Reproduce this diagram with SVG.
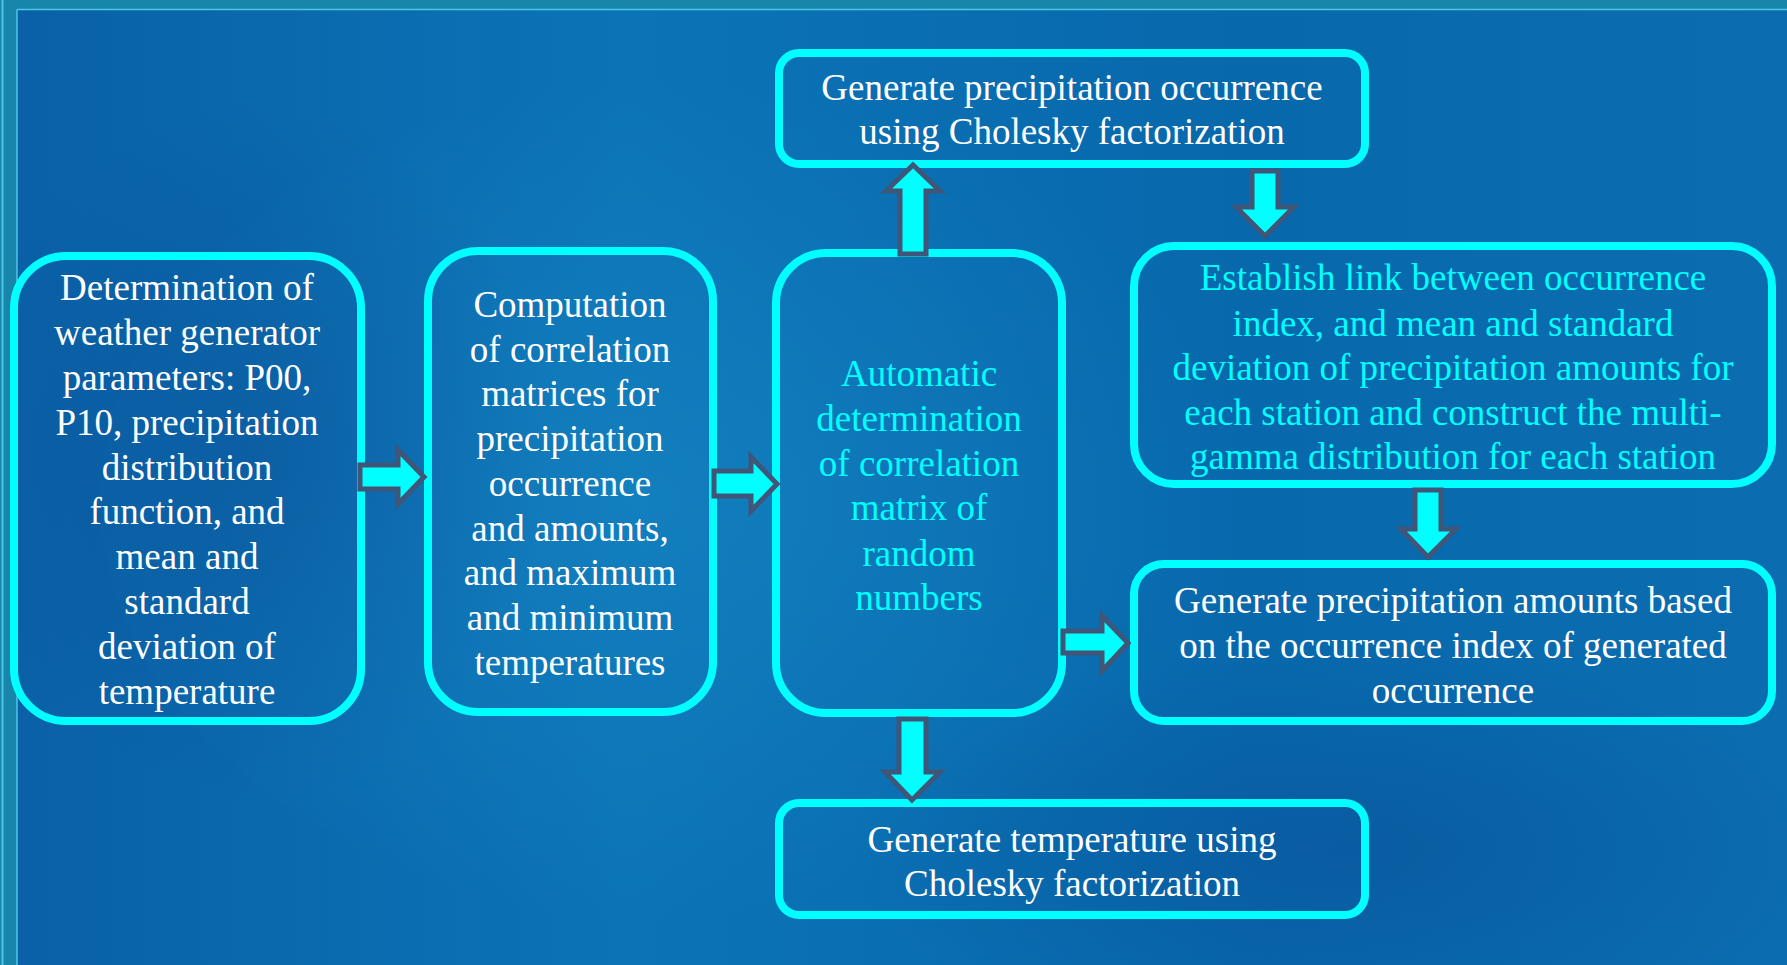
<svg xmlns="http://www.w3.org/2000/svg" width="1787" height="965" viewBox="0 0 1787 965">
  <defs>
    <linearGradient id="bg" x1="0" y1="0" x2="1" y2="0">
      <stop offset="0" stop-color="#0a60a6"/>
      <stop offset="0.35" stop-color="#0b74b6"/>
      <stop offset="0.7" stop-color="#0868ac"/>
      <stop offset="1" stop-color="#0b6db0"/>
    </linearGradient>
    <radialGradient id="glow1" cx="0.45" cy="0.5" r="0.5">
      <stop offset="0" stop-color="#1b8cc8" stop-opacity="0.45"/>
      <stop offset="1" stop-color="#1b8cc8" stop-opacity="0"/>
    </radialGradient>
    <radialGradient id="glow2" cx="0.5" cy="0.5" r="0.5">
      <stop offset="0" stop-color="#0a4f96" stop-opacity="0.5"/>
      <stop offset="1" stop-color="#0a4f96" stop-opacity="0"/>
    </radialGradient>
    <style>
      .box { fill: none; stroke: #00ffff; stroke-width: 8; }
      .arrow { fill: #00ffff; stroke: #3f5678; stroke-width: 5; stroke-linejoin: miter; }
      .t { font-family: "Liberation Serif", "Times New Roman", serif; font-size: 37px; text-anchor: middle; fill: #ffffff; }
      .c { fill: #00ffff; }
    </style>
  </defs>

  <!-- background -->
  <rect x="0" y="0" width="1787" height="965" fill="url(#bg)"/>
  <ellipse cx="700" cy="500" rx="600" ry="420" fill="url(#glow1)"/>
  <ellipse cx="250" cy="450" rx="300" ry="350" fill="url(#glow2)"/>
  <ellipse cx="1350" cy="850" rx="500" ry="200" fill="url(#glow2)"/>
  <rect x="0" y="0" width="1787" height="9" fill="#1786aa"/>
  <rect x="0" y="0" width="17" height="965" fill="#1786aa"/>
  <line x1="17" y1="9.5" x2="1787" y2="9.5" stroke="#4cc6e6" stroke-width="1.5"/>
  <line x1="17" y1="9.5" x2="17" y2="965" stroke="#4cc6e6" stroke-width="1.5"/>
  <line x1="2.5" y1="0" x2="2.5" y2="965" stroke="#4cc6e6" stroke-width="2"/>

  <g id="node-determination">
    <rect class="box" x="14" y="256" width="347" height="465" rx="52"/>
    <text class="t" x="187" y="300">Determination of</text>
    <text class="t" x="187" y="345">weather generator</text>
    <text class="t" x="187" y="390">parameters: P00,</text>
    <text class="t" x="187" y="435">P10, precipitation</text>
    <text class="t" x="187" y="480">distribution</text>
    <text class="t" x="187" y="524">function, and</text>
    <text class="t" x="187" y="569">mean and</text>
    <text class="t" x="187" y="614">standard</text>
    <text class="t" x="187" y="659">deviation of</text>
    <text class="t" x="187" y="704">temperature</text>
  </g>

  <g id="node-computation">
    <rect class="box" x="428" y="251" width="285" height="461" rx="50"/>
    <text class="t" x="570" y="317">Computation</text>
    <text class="t" x="570" y="362">of correlation</text>
    <text class="t" x="570" y="406">matrices for</text>
    <text class="t" x="570" y="451">precipitation</text>
    <text class="t" x="570" y="496">occurrence</text>
    <text class="t" x="570" y="541">and amounts,</text>
    <text class="t" x="570" y="585">and maximum</text>
    <text class="t" x="570" y="630">and minimum</text>
    <text class="t" x="570" y="675">temperatures</text>
  </g>

  <g id="node-automatic">
    <rect class="box" x="776" y="253" width="286" height="460" rx="50"/>
    <text class="t c" x="919" y="386">Automatic</text>
    <text class="t c" x="919" y="431">determination</text>
    <text class="t c" x="919" y="476">of correlation</text>
    <text class="t c" x="919" y="520">matrix of</text>
    <text class="t c" x="919" y="566">random</text>
    <text class="t c" x="919" y="610">numbers</text>
  </g>

  <g id="node-occurrence">
    <rect class="box" x="779" y="53" width="586" height="111" rx="20"/>
    <text class="t" x="1072" y="100">Generate precipitation occurrence</text>
    <text class="t" x="1072" y="144">using Cholesky factorization</text>
  </g>

  <g id="node-establish">
    <rect class="box" x="1134" y="246" width="638" height="238" rx="40"/>
    <text class="t c" x="1453" y="290">Establish link between occurrence</text>
    <text class="t c" x="1453" y="336">index, and mean and standard</text>
    <text class="t c" x="1453" y="380">deviation of precipitation amounts for</text>
    <text class="t c" x="1453" y="425">each station and construct the multi-</text>
    <text class="t c" x="1453" y="469">gamma distribution for each station</text>
  </g>

  <g id="node-amounts">
    <rect class="box" x="1134" y="564" width="638" height="157" rx="30"/>
    <text class="t" x="1453" y="613">Generate precipitation amounts based</text>
    <text class="t" x="1453" y="658">on the occurrence index of generated</text>
    <text class="t" x="1453" y="703">occurrence</text>
  </g>

  <g id="node-temperature">
    <rect class="box" x="779" y="803" width="586" height="112" rx="20"/>
    <text class="t" x="1072" y="852">Generate temperature using</text>
    <text class="t" x="1072" y="896">Cholesky factorization</text>
  </g>

  <g id="connectors">
    <polygon class="arrow" points="360,465 398,465 398,450 424,477 398,504 398,489 360,489"/>
    <polygon class="arrow" points="714,471 751,471 751,457 777,484 751,511 751,496 714,496"/>
    <polygon class="arrow" points="900,254 900,191 886,191 913,165 940,191 926,191 926,254"/>
    <polygon class="arrow" points="1252,171 1252,207 1236,207 1265,236 1294,207 1278,207 1278,171"/>
    <polygon class="arrow" points="1063,631 1102,631 1102,616 1128,643 1102,671 1102,653 1063,653"/>
    <polygon class="arrow" points="1415,490 1415,529 1401,529 1428,557 1456,529 1441,529 1441,490"/>
    <polygon class="arrow" points="899,719 899,772 885,772 912,800 940,772 926,772 926,719"/>
  </g>
</svg>
